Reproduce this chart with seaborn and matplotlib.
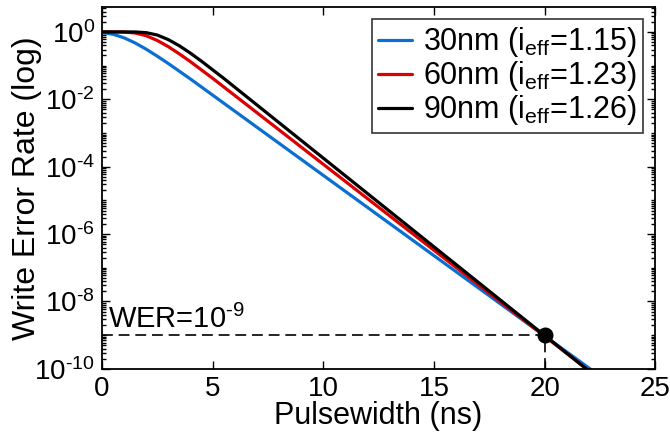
import numpy as np
import pandas as pd
import matplotlib
matplotlib.use('Agg')
import matplotlib.pyplot as plt
import matplotlib.ticker as mticker
import seaborn as sns

# Write error rate vs pulse width for three MTJ sizes
pulse_30 = [0, 0.5, 1.0, 1.5, 2.0, 2.5, 3.0, 4.0, 22.1]
log_wer_30 = [-0.016, -0.069, -0.175, -0.327, -0.512, -0.719, -0.937, -1.397, -10.02]

pulse_60 = [0, 1.0, 1.5, 2.0, 2.5, 3.0, 3.5, 4.0, 5.0, 22.0]
log_wer_60 = [0, -0.004, -0.032, -0.113, -0.253, -0.437, -0.652, -0.883, -1.374, -10.05]

pulse_90 = [0, 1.5, 2.0, 2.5, 3.0, 3.5, 4.0, 4.5, 5.5, 22.0]
log_wer_90 = [0, -0.002, -0.022, -0.093, -0.228, -0.412, -0.630, -0.869, -1.375, -10.06]

labels = ['30nm (i$_{\\mathregular{eff}}$=1.15)',
          '60nm (i$_{\\mathregular{eff}}$=1.23)',
          '90nm (i$_{\\mathregular{eff}}$=1.26)']
colors = ['#0a6fd2', '#dd0000', '#000000']

y_exponents = [0, -2, -4, -6, -8, -10]
target_pw = 20
target_wer = 1e-9

rows = []
for lab, xs, ys in zip(labels, [pulse_30, pulse_60, pulse_90], [log_wer_30, log_wer_60, log_wer_90]):
    for x, y in zip(xs, ys):
        rows.append({'pulsewidth': x, 'wer': 10.0 ** y, 'device': lab})
df = pd.DataFrame(rows)

sns.set_style('ticks')
plt.rcParams['font.family'] = ['Liberation Sans', 'DejaVu Sans']
plt.rcParams['mathtext.fontset'] = 'custom'
plt.rcParams['mathtext.rm'] = 'Liberation Sans'
plt.rcParams['mathtext.it'] = 'Liberation Sans:italic'
for key in ['text.color', 'axes.labelcolor', 'xtick.color', 'ytick.color']:
    plt.rcParams[key] = 'black'

fig = plt.figure(figsize=(6.7, 4.34), dpi=100)
ax = fig.add_axes([0.152, 0.150, 0.826, 0.834])

sns.lineplot(data=df, x='pulsewidth', y='wer', hue='device', palette=colors,
             linewidth=2.3, ax=ax, sort=False, estimator=None)

# WER = 1e-9 guide lines and marker
ax.plot([0, target_pw], [target_wer, target_wer], color='black', lw=1.2, dashes=(6.5, 3.5))
ax.plot([target_pw, target_pw], [1e-10, target_wer], color='black', lw=1.2, dashes=(6.5, 3.5))
ax.plot([target_pw], [target_wer], 'o', color='black', markersize=10.5)
ax.text(0.27, 1.65e-9, 'WER=10$^{\\text{-}\\mathregular{9}}$', fontsize=21, ha='left', va='baseline')

ax.set_yscale('log')
ax.set_xlim(0, 25)
ax.set_ylim(1e-10, 5.5)
ax.set_xticks([0, 5, 10, 15, 20, 25])
ax.set_yticks([10.0 ** e for e in y_exponents])
ax.set_yticklabels(['10$^{\\mathregular{%d}}$' % e if e == 0 else
                    '10$^{\\text{-}\\mathregular{%d}}$' % -e for e in y_exponents])
ax.yaxis.set_minor_locator(mticker.LogLocator(base=10, subs=np.arange(1, 10), numticks=100))
ax.yaxis.set_minor_formatter(mticker.NullFormatter())

ax.tick_params(which='both', direction='in', top=True, right=True, labelsize=20, width=1)
ax.tick_params(which='major', length=6, pad=5)
ax.tick_params(which='minor', length=3)
for s in ax.spines.values():
    s.set_linewidth(1.3)
    s.set_color('black')

ax.set_xlabel('Pulsewidth (ns)', fontsize=22)
ax.set_ylabel('Write Error Rate (log)', fontsize=23)
ax.xaxis.set_label_coords(0.5, -0.089)
ax.yaxis.set_label_coords(-0.108, 0.5)

handles, _ = ax.get_legend_handles_labels()
leg = ax.legend(handles[:3], labels, loc='upper right', fontsize=22, frameon=True,
                fancybox=False, edgecolor='black', handlelength=1.1, handletextpad=0.35,
                borderpad=0.2, labelspacing=0.0, borderaxespad=0.4)
leg.get_frame().set_linewidth(1.2)

fig.savefig('out.png', dpi=100)
